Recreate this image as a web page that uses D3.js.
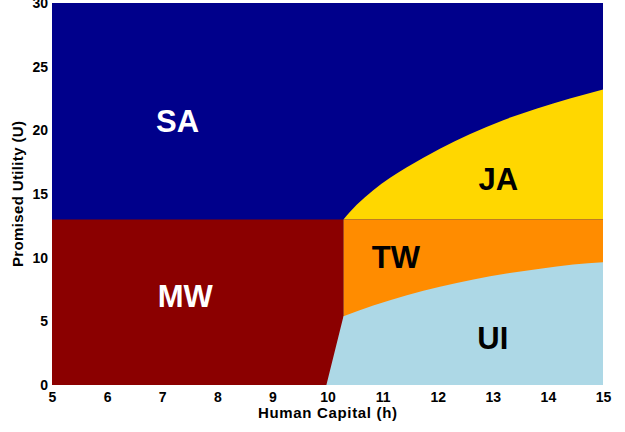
<!DOCTYPE html>
<html>
<head>
<meta charset="utf-8">
<script src="https://cdn.jsdelivr.net/npm/d3@7"></script>
<style>
  body { margin: 0; background: #fff; }
  text { font-family: "Liberation Sans", Arial, sans-serif; font-weight: bold; }
</style>
</head>
<body>
<svg width="625" height="432"></svg>
<script>
// region boundaries
const hDomain = [5, 15];
const uDomain = [0, 30];
const xTicks = [5, 6, 7, 8, 9, 10, 11, 12, 13, 14, 15];
const yTicks = [0, 5, 10, 15, 20, 25, 30];

const splitU = 13;      // SA/MW vs JA/TW horizontal line
const splitH = 10.29;   // MW vs TW vertical line

// JA / SA boundary
const jaH = [10.29, 10.53, 10.83, 11.13, 11.44, 11.74, 12.04, 12.58, 13.19, 13.79, 14.40, 15.0];
const jaU = [13.0, 14.15, 15.3, 16.25, 17.1, 17.85, 18.55, 19.7, 20.8, 21.7, 22.5, 23.21];

// TW / UI boundary
const uiH = [10.29, 10.83, 11.44, 12.04, 12.65, 13.25, 13.86, 14.46, 15.0];
const uiU = [5.40, 6.24, 7.05, 7.71, 8.29, 8.76, 9.13, 9.46, 9.64];

// MW / UI boundary
const mwH = [9.98, 10.29];
const mwU = [0, 5.40];

const regions = [
  {name: "SA", color: "#00008b", text: "#fff", h: 7.28, u: 19.9},
  {name: "JA", color: "#ffd700", text: "#000", h: 13.1, u: 15.3},
  {name: "TW", color: "#ff8c00", text: "#000", h: 11.24, u: 9.15},
  {name: "MW", color: "#8b0000", text: "#fff", h: 7.42, u: 6.1},
  {name: "UI", color: "#add8e6", text: "#000", h: 13.0, u: 2.8}
];

const svg = d3.select("svg");
const margin = {left: 52, right: 22, top: 3, bottom: 47};
const width = +svg.attr("width");
const height = +svg.attr("height");

const x = d3.scaleLinear().domain(hDomain).range([margin.left, width - margin.right]);
const y = d3.scaleLinear().domain(uDomain).range([height - margin.bottom, margin.top]);

const jaCurve = jaH.map((h, i) => [h, jaU[i]]);
const uiCurve = uiH.map((h, i) => [h, uiU[i]]);

const [h0, h1] = hDomain;
const [u0, u1] = uDomain;

const smooth = d3.line()
  .curve(d3.curveMonotoneX)
  .x(d => x(d[0]))
  .y(d => y(d[1]));

const straight = d3.line()
  .x(d => x(d[0]))
  .y(d => y(d[1]));

const shapes = {
  SA: straight([[h0, u0], [h0, u1], [h1, u1], [h1, u0]]) + "Z",
  JA: smooth(jaCurve) + "L" + x(h1) + "," + y(splitU) + "Z",
  MW: straight([[h0, u0], [h0, splitU], [splitH, splitU], [splitH, u0]]) + "Z",
  TW: straight([[splitH, u0], [splitH, splitU], [h1, splitU], [h1, u0]]) + "Z",
  UI: "M" + x(mwH[0]) + "," + y(mwU[0]) + smooth(uiCurve).replace(/^M/, "L") + "L" + x(h1) + "," + y(u0) + "Z"
};

const layers = ["SA", "JA", "MW", "TW", "UI"];
const byName = new Map(regions.map(r => [r.name, r]));

const plot = svg.append("g");

plot.selectAll("path.region")
  .data(layers.map(n => byName.get(n)))
  .enter()
  .append("path")
  .attr("class", "region")
  .attr("d", d => shapes[d.name])
  .attr("fill", d => d.color);

plot.selectAll("text.label")
  .data(regions)
  .enter()
  .append("text")
  .attr("class", "label")
  .attr("x", d => x(d.h))
  .attr("y", d => y(d.u))
  .attr("text-anchor", "middle")
  .attr("font-size", 31)
  .attr("fill", d => d.text)
  .text(d => d.name);

// axes without visible lines, ticks hidden under the fill
const xAxis = svg.append("g")
  .attr("transform", `translate(0,${height - margin.bottom})`)
  .call(d3.axisBottom(x).tickValues(xTicks).tickSize(0).tickPadding(7).tickFormat(d3.format("d")));

const yAxis = svg.append("g")
  .attr("transform", `translate(${margin.left},0)`)
  .call(d3.axisLeft(y).tickValues(yTicks).tickSize(0).tickPadding(4).tickFormat(d3.format("d")));

[xAxis, yAxis].forEach(a => {
  a.select(".domain").remove();
  a.selectAll("text")
    .attr("font-family", "Liberation Sans, Arial, sans-serif")
    .attr("font-weight", "bold")
    .attr("font-size", 14)
    .attr("fill", "#000");
});

svg.append("text")
  .attr("x", (x.range()[0] + x.range()[1]) / 2)
  .attr("y", 418)
  .attr("text-anchor", "middle")
  .attr("font-size", 15)
  .attr("textLength", 139)
  .text("Human Capital (h)");

svg.append("text")
  .attr("transform", `translate(23,${(y.range()[0] + y.range()[1]) / 2}) rotate(-90)`)
  .attr("text-anchor", "middle")
  .attr("font-size", 15)
  .attr("textLength", 146)
  .text("Promised Utility (U)");
</script>
</body>
</html>
